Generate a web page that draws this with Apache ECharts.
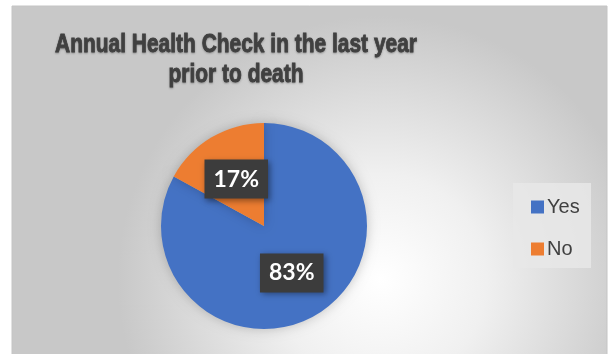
<!DOCTYPE html>
<html>
<head>
<meta charset="utf-8">
<script src="https://cdn.jsdelivr.net/npm/echarts@6/dist/echarts.min.js"></script>
<style>
  html, body { margin: 0; padding: 0; background: #fff; }
  #main { width: 612px; height: 354px; }
</style>
</head>
<body>
<div id="main"></div>
<script>
var titleLines = ["Annual Health Check in the last year", "prior to death"];
var categories = ["Yes", "No"];
var shares = [83, 17];
var colors = ["#4472C4", "#ED7D31"];

var myChart = echarts.init(document.getElementById("main"));

// title font is a narrow bold face in the original; squeeze a normal bold one
var titleFont = "bold 26px 'Liberation Sans'";
var ctx = document.createElement("canvas").getContext("2d");
ctx.font = titleFont;
var squeeze = 362 / ctx.measureText(titleLines[0]).width;

var pieData = categories.map(function (name, i) {
  return { name: name, value: shares[i], itemStyle: { color: colors[i] } };
});

var titleStyle = function (txt) {
  return {
    text: txt,
    x: 0,
    y: 0,
    align: "center",
    verticalAlign: "middle",
    font: titleFont,
    fill: "#404040",
    stroke: "#404040",
    lineWidth: 0.8,
    textShadowColor: "rgba(0,0,0,0.25)",
    textShadowBlur: 2,
    textShadowOffsetY: 1
  };
};

var option = {
  animation: false,
  graphic: [
    {
      type: "rect",
      z: -10,
      shape: { x: 12, y: 6, width: 595, height: 350 },
      style: {
        fill: new echarts.graphic.RadialGradient(0.62, 0.78, 0.75, [
          { offset: 0, color: "#ffffff" },
          { offset: 0.4, color: "#f0f0f0" },
          { offset: 1, color: "#c8c8c8" }
        ]),
        stroke: "#c4c4c4",
        lineWidth: 1
      }
    },
    {
      type: "rect",
      z: -5,
      shape: { x: 513, y: 183, width: 78, height: 85 },
      style: { fill: "rgba(232,232,232,0.85)" }
    },
    { type: "text", x: 236, y: 45, scaleX: squeeze, style: titleStyle(titleLines[0]) },
    { type: "text", x: 236, y: 75, scaleX: squeeze, style: titleStyle(titleLines[1]) }
  ],
  legend: {
    orient: "vertical",
    left: 526,
    top: 192,
    itemWidth: 13,
    itemHeight: 13,
    itemGap: 22,
    icon: "rect",
    data: categories,
    textStyle: {
      fontFamily: "Liberation Sans",
      fontSize: 20,
      color: "#404040",
      padding: [0, 0, 0, -2]
    }
  },
  series: [
    {
      type: "pie",
      center: [264, 226],
      radius: [0, 103],
      startAngle: 90,
      clockwise: true,
      itemStyle: {
        borderWidth: 0,
        shadowBlur: 12,
        shadowColor: "rgba(0,0,0,0.22)"
      },
      label: {
        show: true,
        position: "inside",
        formatter: "{d}%",
        fontFamily: "Lato",
        fontWeight: "bold",
        fontSize: 23,
        color: "#ffffff",
        backgroundColor: "#3c3c3c",
        padding: [9, 9, 7, 9],
        shadowBlur: 6,
        shadowColor: "rgba(0,0,0,0.4)",
        shadowOffsetX: 2,
        shadowOffsetY: 2
      },
      labelLine: { show: false },
      emphasis: { disabled: true },
      data: pieData
    }
  ]
};

option && myChart.setOption(option);
</script>
</body>
</html>
